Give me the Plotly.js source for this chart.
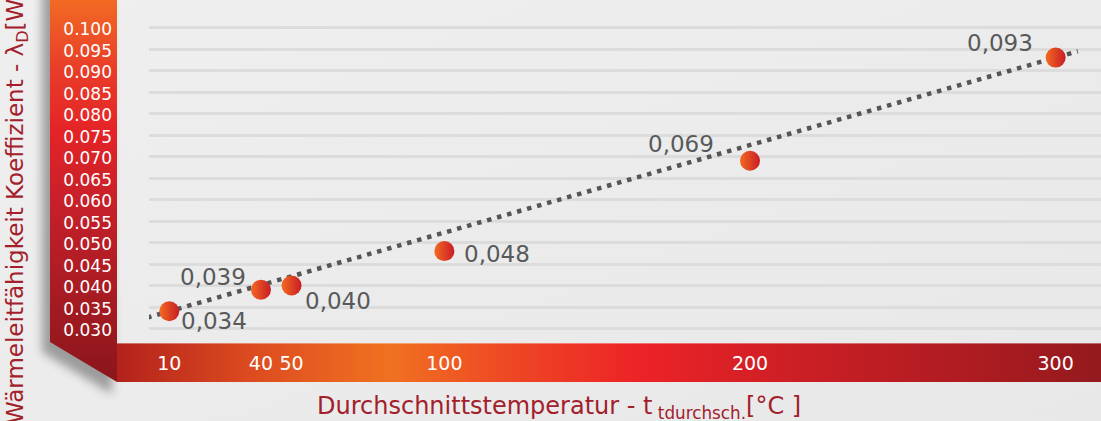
<!DOCTYPE html>
<html>
<head>
<meta charset="utf-8">
<script src="https://cdn.plot.ly/plotly-3.0.1.min.js"></script>
<style>html,body{margin:0;padding:0;background:#ebebeb;}#chart{width:1101px;height:421px;}</style>
</head>
<body>
<div id="chart"></div>
<script>
// ---- data ----
const temps = [10, 40, 50, 100, 200, 300];
const lambdaD = [0.034, 0.039, 0.040, 0.048, 0.069, 0.093];
const valueLabels = ['0,034', '0,039', '0,040', '0,048', '0,069', '0,093'];
const xTickText = ['10', '40', '50', '100', '200', '300'];
const yTickVals = [0.030, 0.035, 0.040, 0.045, 0.050, 0.055, 0.060, 0.065, 0.070, 0.075, 0.080, 0.085, 0.090, 0.095, 0.100];
const yTickText = ['0.030', '0.035', '0.040', '0.045', '0.050', '0.055', '0.060', '0.065', '0.070', '0.075', '0.080', '0.085', '0.090', '0.095', '0.100'];
const xTitleText = 'Durchschnittstemperatur - t<sub> tdurchsch.</sub>[°C ]';
const yTitleText = 'Wärmeleitfähigkeit Koeffizient - λ<sub>D</sub>[W/mK]';

// ---- label placement (pixel offsets from each point) ----
const labelShift = [[45, -10], [-48, 13], [46, -15], [53, -3], [-69, 17], [-56, 15]];

// ---- geometry ----
const W = 1101, H = 421;
const M = {l: 149, r: 0, t: 0, b: 78};
const PW = W - M.l - M.r, PH = H - M.t - M.b;
const px2paperX = p => (p - M.l) / PW;
const px2paperY = p => (H - M.b - p) / PH;

// trend line through first and last point, slightly extended
const n = temps.length;
const span = temps[n - 1] - temps[0];
const slope = (lambdaD[n - 1] - lambdaD[0]) / span;
const ext = 0.025 * span;
const trendX = [temps[0] - ext, temps[n - 1] + ext];
const trendY = [lambdaD[0] - slope * ext, lambdaD[n - 1] + slope * ext];

// ---- decorative background (bands) ----
const svg = `<svg xmlns="http://www.w3.org/2000/svg" width="${W}" height="${H}" viewBox="0 0 ${W} ${H}">
<defs>
<linearGradient id="bg" x1="0" y1="0" x2="1" y2="1"><stop offset="0" stop-color="#efefef"/><stop offset="1" stop-color="#e8e8e8"/></linearGradient>
<linearGradient id="vb" x1="0" y1="0" x2="0" y2="382" gradientUnits="userSpaceOnUse">
<stop offset="0" stop-color="#f26a24"/><stop offset="0.18" stop-color="#e83d29"/><stop offset="0.34" stop-color="#e42427"/><stop offset="0.52" stop-color="#c8202a"/><stop offset="0.79" stop-color="#a51b22"/><stop offset="1" stop-color="#8a161b"/>
</linearGradient>
<linearGradient id="hb" x1="117" y1="0" x2="1101" y2="0" gradientUnits="userSpaceOnUse">
<stop offset="0" stop-color="#b3221b"/><stop offset="0.135" stop-color="#dc4b20"/><stop offset="0.277" stop-color="#f07121"/><stop offset="0.39" stop-color="#ee4a24"/><stop offset="0.53" stop-color="#ec2327"/><stop offset="0.69" stop-color="#cc1f25"/><stop offset="0.9" stop-color="#a81b20"/><stop offset="1" stop-color="#931a1e"/>
</linearGradient>
<filter id="sh" x="-50%" y="-50%" width="200%" height="200%"><feGaussianBlur stdDeviation="5"/></filter>
</defs>
<rect width="${W}" height="${H}" fill="url(#bg)"/>
<polygon points="42,-20 110,-20 112,394 42,352" fill="#3a3a3a" opacity="0.45" filter="url(#sh)"/>
<polygon points="50,0 117,0 117,382 50,342" fill="url(#vb)"/>
<rect x="117" y="343" width="984" height="39" fill="url(#hb)"/>
<line x1="117" y1="343.5" x2="1101" y2="343.5" stroke="#ffffff" stroke-opacity="0.35" stroke-width="1"/>
</svg>`;
const bgSrc = 'data:image/svg+xml;charset=utf-8,' + encodeURIComponent(svg);

const FONT = 'DejaVu Sans';

const traces = [
  {
    x: trendX, y: trendY, type: 'scatter', mode: 'lines',
    line: {color: '#555555', width: 4.5, dash: '4.5px,5.9px'},
    hoverinfo: 'skip', cliponaxis: false
  },
  {
    x: temps, y: lambdaD, type: 'scatter', mode: 'markers',
    marker: {size: 20, color: '#f36a21', line: {width: 0},
             gradient: {type: 'horizontal', color: '#c81c26'}},
    hoverinfo: 'skip', cliponaxis: false
  }
];

const annotations = valueLabels.map((t, i) => ({
  x: temps[i], y: lambdaD[i], xref: 'x', yref: 'y', text: t, showarrow: false,
  xanchor: 'center', yanchor: 'middle', xshift: labelShift[i][0], yshift: labelShift[i][1],
  font: {family: FONT, size: 23, color: '#58595b'}
}));
annotations.push({
  xref: 'paper', yref: 'paper', x: px2paperX(17), y: px2paperY(426),
  xanchor: 'center', yanchor: 'bottom', textangle: -90, showarrow: false,
  text: yTitleText, font: {family: FONT, size: 23, color: '#a3202b'}
});
annotations.push({
  xref: 'paper', yref: 'paper', x: px2paperX(315), y: px2paperY(407),
  xanchor: 'left', yanchor: 'middle', showarrow: false,
  text: xTitleText, font: {family: FONT, size: 24, color: '#a3202b'}
});

const xPx0 = 138.7, xK = 3.0565;          // fitted pixel mapping of temperature axis
const yPx030 = 328.5, yK = 21.5 / 0.005;   // pixel mapping of lambda axis

const layout = {
  width: W, height: H,
  margin: {l: M.l, r: M.r, t: M.t, b: M.b, pad: 0},
  paper_bgcolor: '#ebebeb', plot_bgcolor: 'rgba(0,0,0,0)',
  showlegend: false, hovermode: false,
  images: [{
    source: bgSrc, xref: 'paper', yref: 'paper',
    x: px2paperX(0), y: px2paperY(0), sizex: W / PW, sizey: H / PH,
    xanchor: 'left', yanchor: 'top', sizing: 'stretch', layer: 'below'
  }],
  xaxis: {
    range: [(M.l - xPx0) / xK, (W - M.r - xPx0) / xK],
    tickvals: temps, ticktext: xTickText,
    showgrid: false, zeroline: false, showline: false, ticks: '',
    tickfont: {family: FONT, size: 19, color: '#ffffff'},
    ticklabelstandoff: 7, fixedrange: true
  },
  yaxis: {
    range: [0.030 - (H - M.b - yPx030) / yK, 0.030 + (yPx030 - M.t) / yK],
    tickvals: yTickVals, ticktext: yTickText,
    showgrid: true, gridcolor: '#dcdcdc', gridwidth: 3,
    zeroline: false, showline: false, ticks: '',
    tickfont: {family: FONT, size: 17, color: '#ffffff'},
    ticklabelstandoff: 36, ticklabelshift: 2, fixedrange: true
  },
  annotations: annotations
};

Plotly.newPlot('chart', traces, layout, {displayModeBar: false, staticPlot: true});
</script>
</body>
</html>
